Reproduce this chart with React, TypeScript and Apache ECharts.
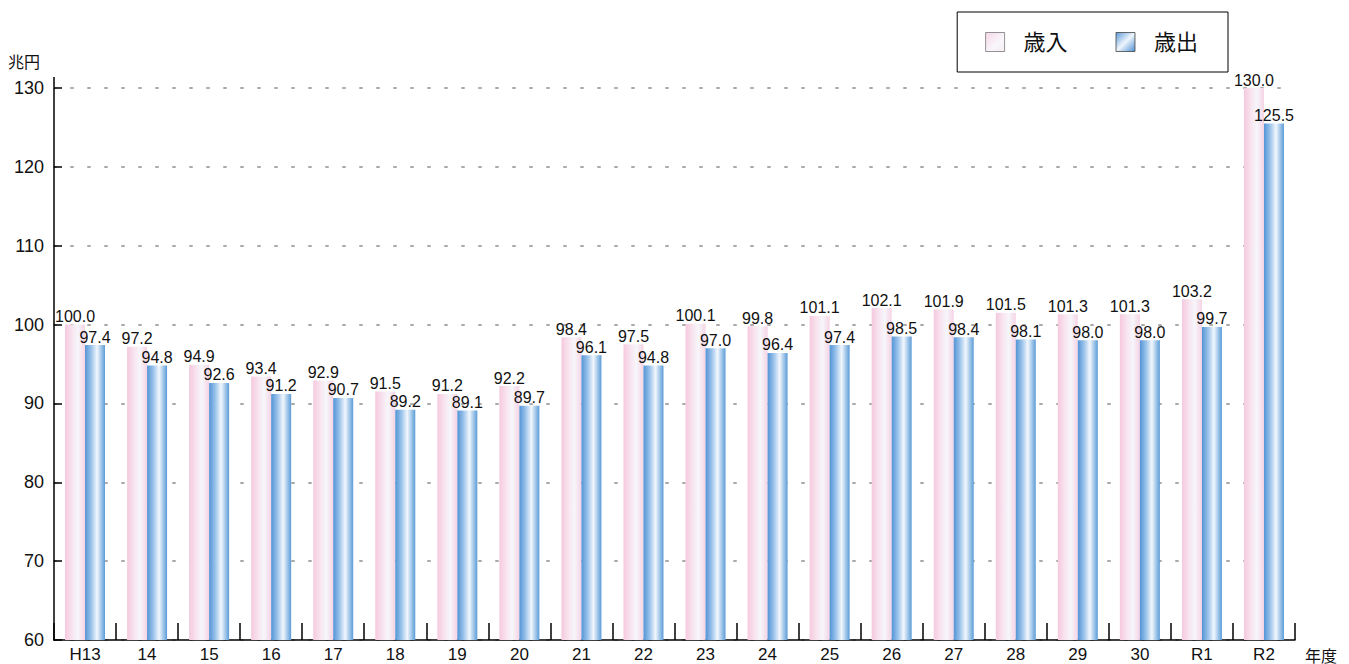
import React, { useEffect, useRef } from "react";
import * as echarts from "echarts";

const categories = ["H13", "14", "15", "16", "17", "18", "19", "20", "21", "22", "23", "24", "25", "26", "27", "28", "29", "30", "R1", "R2"];
const revenue = [100.0, 97.2, 94.9, 93.4, 92.9, 91.5, 91.2, 92.2, 98.4, 97.5, 100.1, 99.8, 101.1, 102.1, 101.9, 101.5, 101.3, 101.3, 103.2, 130.0];
const expenditure = [97.4, 94.8, 92.6, 91.2, 90.7, 89.2, 89.1, 89.7, 96.1, 94.8, 97.0, 96.4, 97.4, 98.5, 98.4, 98.1, 98.0, 98.0, 99.7, 125.5];
const seriesNames = ["歳入", "歳出"];
const yTicks = { min: 60, max: 130, interval: 10 };

const FONT = "'Liberation Sans', 'Noto Sans CJK JP', sans-serif";

const pinkGrad = new echarts.graphic.LinearGradient(0, 0, 1, 0, [
  { offset: 0, color: "#f5c9de" },
  { offset: 0.35, color: "#f8e4ef" },
  { offset: 0.65, color: "#f6f6fb" },
  { offset: 1, color: "#f6d3e4" },
]);
const blueGrad = new echarts.graphic.LinearGradient(0, 0, 1, 0, [
  { offset: 0, color: "#5394d5" },
  { offset: 0.3, color: "#98c1ea" },
  { offset: 0.6, color: "#f2f7fd" },
  { offset: 1, color: "#5b9cd7" },
]);
const pinkIcon = new echarts.graphic.LinearGradient(0, 0, 1, 1, [
  { offset: 0, color: "#f7d6e6" },
  { offset: 0.6, color: "#f8f6fb" },
  { offset: 1, color: "#f6ecf4" },
]);
const blueIcon = new echarts.graphic.LinearGradient(0, 0, 1, 1, [
  { offset: 0, color: "#5b9ad8" },
  { offset: 0.5, color: "#eef5fc" },
  { offset: 1, color: "#4e8fd2" },
]);

export default function App() {
  const ref = useRef<HTMLDivElement>(null);
  useEffect(() => {
    document.body.style.margin = "0";
    const chart = echarts.init(ref.current!, null, { renderer: "svg" });
    const label = {
      show: true,
      position: "top" as const,
      distance: 0,
      color: "#111",
      fontSize: 16,
      fontFamily: FONT,
      formatter: (p: any) => Number(p.value).toFixed(1),
    };
    chart.setOption({
      animation: false,
      backgroundColor: "#fff",
      textStyle: { fontFamily: FONT },
      grid: { left: 54, right: 54, top: 88, bottom: 17, containLabel: false },
      legend: {
        right: 121,
        top: 12,
        padding: [19, 30, 19, 28],
        borderColor: "#000",
        borderWidth: 1,
        itemWidth: 19,
        itemHeight: 19,
        itemGap: 48,
        textStyle: { fontSize: 22, color: "#111", fontFamily: FONT, padding: [0, 0, 0, 14] },
        data: [
          { name: seriesNames[0], icon: "rect", itemStyle: { color: pinkIcon, borderColor: "#777", borderWidth: 0.8 } },
          { name: seriesNames[1], icon: "rect", itemStyle: { color: blueIcon, borderColor: "#444", borderWidth: 0.8 } },
        ],
      },
      xAxis: {
        type: "category",
        data: categories,
        name: "年度",
        nameLocation: "end",
        nameGap: 10,
        nameTextStyle: { fontSize: 16, color: "#111", verticalAlign: "top", padding: [8, 0, 0, 0] },
        axisLine: { lineStyle: { color: "#000", width: 1.5 } },
        axisTick: { show: true, inside: true, length: 17, lineStyle: { color: "#000", width: 1.5 } },
        axisLabel: { color: "#111", fontSize: 17, margin: 6 },
      },
      yAxis: {
        type: "value",
        min: yTicks.min,
        max: yTicks.max,
        interval: yTicks.interval,
        name: "兆円",
        nameLocation: "end",
        nameGap: 18,
        nameTextStyle: { fontSize: 16, color: "#111", align: "right", padding: [0, 14, 0, 0] },
        axisLine: { show: true, lineStyle: { color: "#000", width: 1.5 } },
        axisTick: { show: true, inside: true, length: 8, lineStyle: { color: "#000", width: 1.5 } },
        axisLabel: { color: "#111", fontSize: 18, margin: 10 },
        splitLine: {
          show: true,
          lineStyle: { color: "#aaa", width: 2, type: [2, 15], cap: "round" },
        },
      },
      graphic: [
        { type: "line", shape: { x1: 54, y1: 77, x2: 54, y2: 88 }, style: { stroke: "#000", lineWidth: 1.5 } },
      ],
      series: [
        {
          name: seriesNames[0],
          type: "bar",
          data: revenue,
          barWidth: 20,
          barGap: "0%",
          itemStyle: { color: pinkGrad },
          label,
        },
        {
          name: seriesNames[1],
          type: "bar",
          data: expenditure,
          barWidth: 20,
          barGap: "0%",
          itemStyle: { color: blueGrad },
          label,
        },
      ],
    });
    return () => chart.dispose();
  }, []);
  return <div ref={ref} style={{ width: 1349, height: 664 }} />;
}
